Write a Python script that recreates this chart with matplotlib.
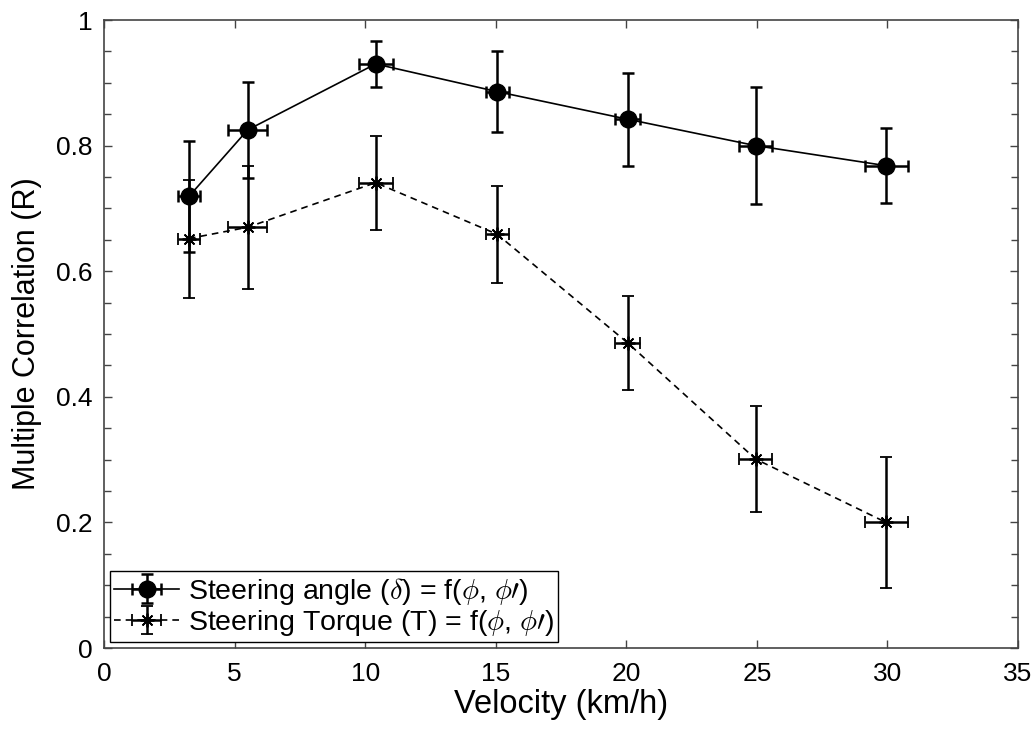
import matplotlib
matplotlib.use("Agg")
import matplotlib.pyplot as plt
from matplotlib.ticker import MultipleLocator

plt.rcParams['font.family'] = ['Liberation Sans', 'DejaVu Sans']
plt.rcParams['mathtext.fontset'] = 'cm'

velocity = [3.25, 5.5, 10.4, 15.05, 20.05, 24.95, 29.95]
velocity_err = [0.41, 0.75, 0.65, 0.44, 0.49, 0.62, 0.82]
angle_R = [0.719, 0.825, 0.930, 0.886, 0.842, 0.800, 0.768]
angle_err = [0.089, 0.077, 0.037, 0.064, 0.074, 0.093, 0.060]
torque_R = [0.652, 0.670, 0.741, 0.659, 0.486, 0.301, 0.200]
torque_err = [0.094, 0.098, 0.075, 0.077, 0.075, 0.085, 0.104]

label_angle = r'Steering angle ($\delta$) = f($\phi$, $\phi\prime$)'
label_torque = r'Steering Torque (T) = f($\phi$, $\phi\prime$)'

fig = plt.figure(figsize=(10.32, 7.30), dpi=100)
ax = fig.add_axes([0.1008, 0.1123, 0.8856, 0.8603])

ax.errorbar(velocity, angle_R, yerr=angle_err, xerr=velocity_err,
            color='black', linestyle='-', linewidth=1.2,
            marker='o', markersize=12, elinewidth=1.8, capsize=4.5, capthick=1.8,
            label=label_angle)
ax.errorbar(velocity, torque_R, yerr=torque_err, xerr=velocity_err,
            color='black', linestyle=(0, (4, 3)), linewidth=1.2,
            marker=(8, 2, 0), markersize=10, markeredgewidth=1.3,
            elinewidth=1.8, capsize=4.5, capthick=1.8,
            label=label_torque)

ax.set_xlim(0, 35)
ax.set_ylim(0, 1)
ax.yaxis.set_minor_locator(MultipleLocator(0.05))
ax.set_yticks([0, 0.2, 0.4, 0.6, 0.8, 1.0])
ax.set_yticklabels(['0', '0.2', '0.4', '0.6', '0.8', '1'])
ax.set_xticks([0, 5, 10, 15, 20, 25, 30, 35])
ax.set_xticklabels(['0', '5', '10', '15', '20', '25', '30', '35'])

frame_col = '#444444'
for sp in ax.spines.values():
    sp.set_color(frame_col)
    sp.set_linewidth(1.2)
ax.tick_params(which='both', direction='in', top=True, right=True,
               color=frame_col, width=1.0)
ax.tick_params(which='major', length=6, labelsize=19)
ax.tick_params(axis='x', which='major', pad=10)
ax.tick_params(axis='y', which='major', pad=8)
ax.tick_params(which='minor', length=5)

ax.set_xlabel('Velocity (km/h)', fontsize=23.5, labelpad=2)
ax.set_ylabel('Multiple Correlation (R)', fontsize=22, labelpad=10)

leg = ax.legend(loc='lower left', fontsize=20.5, frameon=True, fancybox=False,
                edgecolor='black', framealpha=1, borderpad=0.15,
                handlelength=2.3, handletextpad=0.3, labelspacing=0.05,
                borderaxespad=0.2)
leg.get_frame().set_linewidth(1.0)

fig.savefig('out.png', dpi=100)
